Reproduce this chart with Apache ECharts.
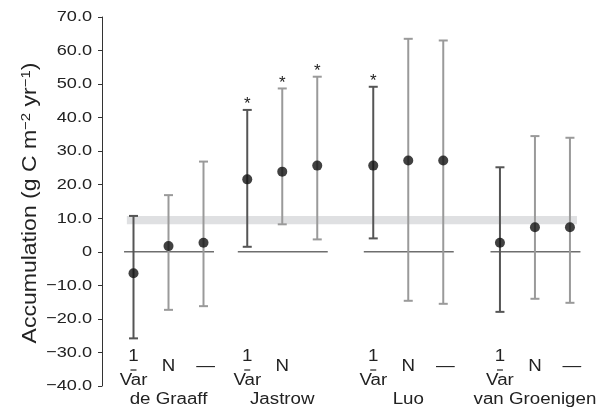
<!DOCTYPE html>
<html><head><meta charset="utf-8">
<script src="https://cdn.jsdelivr.net/npm/echarts@6/dist/echarts.min.js"></script>
<style>html,body{margin:0;padding:0;background:#fff}#c{width:597px;height:411px}</style>
</head><body><div id="c"></div>
<script>
// ---- data ----
const groups = ['de Graaff', 'Jastrow', 'Luo', 'van Groenigen'];
const methods = ['1/Var', 'N', '\u2014'];
const means = [[-6.4, 1.7, 2.7], [21.6, 23.9, 25.7], [25.7, 27.2, 27.2], [2.7, 7.3, 7.3]];
const upper = [[10.7, 16.9, 26.9], [42.3, 48.7, 52.2], [49.2, 63.5, 63.0], [25.2, 34.5, 34.0]];
const lower = [[-25.8, -17.3, -16.2], [1.5, 8.2, 3.7], [4.0, -14.6, -15.5], [-17.9, -14.0, -15.2]];
const significant = [[0, 0, 0], [1, 1, 1], [1, 0, 0], [0, 0, 0]];
const labelShown = [[1, 1, 1], [1, 1, 0], [1, 1, 1], [1, 1, 1]];
const bandRange = [8.2, 10.7];
const yTicks = [70, 60, 50, 40, 30, 20, 10, 0, -10, -20, -30, -40];
const yTickLabels = ['70.0', '60.0', '50.0', '40.0', '30.0', '20.0', '10.0', '0', '\u221210.0', '\u221220.0', '\u221230.0', '\u221240.0'];
const yMin = -40, yMax = 70, yStep = 10;

// ---- layout (not data) ----
const groupStart = [0.9, 4.15, 7.75, 11.37];
const FONT = 'Liberation Sans, Arial, Helvetica, sans-serif';
const SX = 1.17;

const pts = [], bars = [], labels = [];
groups.forEach((g, gi) => {
  methods.forEach((m, mi) => {
    const x = groupStart[gi] + mi;
    pts.push([x, means[gi][mi]]);
    bars.push([x, lower[gi][mi], upper[gi][mi], mi, significant[gi][mi]]);
    if (labelShown[gi][mi]) labels.push([x, yMin, mi, -1]);
  });
  labels.push([groupStart[gi] + 1, yMin, 3, gi]);
});
const zeroSegs = groupStart.map(s => [s - 0.27, s + 2.3, 0]);
const tickData = yTicks.map((v, i) => [0, v, i]);

const chart = echarts.init(document.getElementById('c'));
chart.setOption({
  animation: false,
  grid: { left: 102, right: 5, top: 17, bottom: 25 },
  xAxis: { type: 'value', min: 0, max: 14, show: false },
  yAxis: {
    type: 'value', min: yMin, max: yMax, interval: yStep,
    axisLine: { show: true, lineStyle: { color: '#333', width: 1 } },
    axisTick: { show: true, length: 4, lineStyle: { color: '#333' } },
    splitLine: { show: false },
    axisLabel: { show: false }
  },
  graphic: [{
    type: 'text', x: 30, y: 203, rotation: Math.PI / 2, scaleX: 1.15,
    style: {
      text: 'Accumulation (g C m{sup|\u22122} yr{sup|\u22121})',
      fontFamily: FONT, fontSize: 20, fill: '#222', align: 'center', verticalAlign: 'middle',
      rich: { sup: { fontFamily: FONT, fontSize: 13, fill: '#222', verticalAlign: 'top' } }
    }
  }],
  series: [
    { // gray band
      type: 'custom', z: 1, silent: true,
      data: [[groupStart[0] - 0.19, groupStart[3] + 2.2, bandRange[0], bandRange[1]]],
      renderItem: (p, api) => {
        const a = api.coord([api.value(0), api.value(3)]);
        const b = api.coord([api.value(1), api.value(2)]);
        return { type: 'rect', shape: { x: a[0], y: a[1], width: b[0] - a[0], height: b[1] - a[1] }, style: { fill: '#dfe0e2' } };
      }
    },
    { // zero lines
      type: 'custom', z: 2, silent: true, data: zeroSegs,
      renderItem: (p, api) => {
        const a = api.coord([api.value(0), api.value(2)]);
        const b = api.coord([api.value(1), api.value(2)]);
        return { type: 'line', shape: { x1: a[0], y1: a[1], x2: b[0], y2: b[1] }, style: { stroke: '#6e6e6e', lineWidth: 1.6 } };
      }
    },
    { // error bars
      type: 'custom', z: 3, silent: true, data: bars,
      renderItem: (p, api) => {
        const x = api.value(0);
        const lo = api.coord([x, api.value(1)]);
        const hi = api.coord([x, api.value(2)]);
        const col = api.value(3) === 0 ? '#555' : '#9a9a9a';
        const st = { stroke: col, lineWidth: 2 };
        const ch = [
          { type: 'line', shape: { x1: lo[0], y1: lo[1], x2: hi[0], y2: hi[1] }, style: st },
          { type: 'line', shape: { x1: hi[0] - 4.5, y1: hi[1], x2: hi[0] + 4.5, y2: hi[1] }, style: st },
          { type: 'line', shape: { x1: lo[0] - 4.5, y1: lo[1], x2: lo[0] + 4.5, y2: lo[1] }, style: st }
        ];
        if (api.value(4) === 1) {
          ch.push({ type: 'text', style: { text: '*', x: hi[0], y: hi[1] + 3, align: 'center', verticalAlign: 'bottom', fontFamily: FONT, fontSize: 17, fill: '#222' } });
        }
        return { type: 'group', children: ch };
      }
    },
    { // means
      type: 'scatter', z: 4, silent: true, data: pts, symbol: 'circle', symbolSize: 10,
      itemStyle: { color: '#111' }
    },
    { // y tick labels
      type: 'custom', z: 5, silent: true, clip: false, data: tickData,
      renderItem: (p, api) => {
        const c = api.coord([api.value(0), api.value(1)]);
        return { type: 'text', x: c[0] - 10, y: c[1], scaleX: SX,
          style: { text: yTickLabels[api.value(2)], x: 0, y: 0, align: 'right', verticalAlign: 'middle', fontFamily: FONT, fontSize: 15.5, fill: '#222' } };
      }
    },
    { // x labels
      type: 'custom', z: 5, silent: true, clip: false, data: labels,
      renderItem: (p, api) => {
        const c = api.coord([api.value(0), api.value(1)]);
        const k = api.value(2);
        const ts = { fontFamily: FONT, fontSize: 16, fill: '#222', align: 'center', verticalAlign: 'middle', x: 0, y: 0 };
        const T = (text, dx, dy) => ({ type: 'text', x: c[0] + dx, y: c[1] + dy, scaleX: SX, style: Object.assign({}, ts, { text }) });
        if (k === 0) {
          return { type: 'group', children: [
            T('1', 0, -29),
            { type: 'line', shape: { x1: c[0] - 3, y1: c[1] - 16, x2: c[0] + 3, y2: c[1] - 16 }, style: { stroke: '#222', lineWidth: 1.2 } },
            T('Var', 0, -5)
          ] };
        }
        if (k === 3) return T(groups[api.value(3)], 0, 14);
        return T(methods[k], k === 2 ? 2 : 0, -19);
      }
    }
  ]
});
</script></body></html>
